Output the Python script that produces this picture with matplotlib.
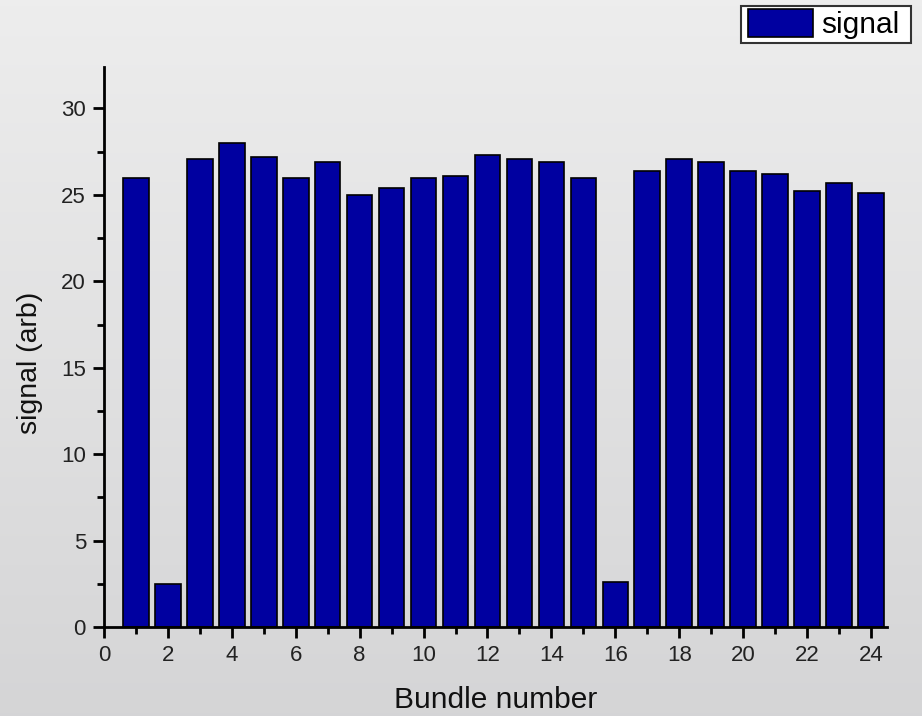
import numpy as np
import matplotlib
matplotlib.use("Agg")
import matplotlib.pyplot as plt
from matplotlib.patches import Rectangle
from matplotlib.ticker import MultipleLocator

plt.rcParams['font.family'] = ['Liberation Sans', 'DejaVu Sans']

bundles = list(range(1, 25))
signal = [26.0, 2.5, 27.1, 28.0, 27.2, 26.0, 26.9, 25.0, 25.4, 26.0, 26.1, 27.3,
          27.1, 26.9, 26.0, 2.6, 26.4, 27.1, 26.9, 26.4, 26.2, 25.2, 25.7, 25.1]

fig = plt.figure(figsize=(9.22, 7.16), dpi=100)

# soft grey vertical gradient behind everything
bg = fig.add_axes([0, 0, 1, 1], zorder=-10)
grad = np.linspace(0, 1, 256).reshape(-1, 1)
top = np.array([0.930, 0.930, 0.930])
bot = np.array([0.835, 0.835, 0.840])
img = top + (bot - top) * grad[..., None]
bg.imshow(img, aspect='auto', extent=[0, 1, 0, 1])
bg.axis('off')

ax = fig.add_axes([0.1128, 0.1243, 0.8492, 0.7821])
ax.patch.set_alpha(0)
ax.bar(bundles, signal, width=0.8, color='#0000a0', edgecolor='black',
       linewidth=1.2, label='signal')

ax.set_xlim(0, 24.5)
ax.set_ylim(0, 32.4)
ax.xaxis.set_major_locator(MultipleLocator(2))
ax.xaxis.set_minor_locator(MultipleLocator(1))
ax.yaxis.set_major_locator(MultipleLocator(5))
ax.yaxis.set_minor_locator(MultipleLocator(2.5))

for s in ('top', 'right'):
    ax.spines[s].set_visible(False)
for s in ('left', 'bottom'):
    ax.spines[s].set_linewidth(2)

ax.tick_params(which='major', direction='out', length=8, width=2,
               labelsize=16, colors='black', labelcolor='#222222', pad=5)
ax.tick_params(which='minor', direction='out', length=5, width=2)

ax.set_xlabel('Bundle number', fontsize=21.5, color='#111111', labelpad=14)
ax.set_ylabel('signal (arb)', fontsize=20.5, color='#111111')
ax.yaxis.set_label_coords(-0.078, 0.471)

# legend box with a white panel, wider padding on the right
fig.patches.append(Rectangle((0.8037, 0.9399), 0.1844, 0.0517,
                             transform=fig.transFigure, facecolor='white',
                             edgecolor='#333333', linewidth=1.5, zorder=5))
leg = fig.legend(loc='upper left', bbox_to_anchor=(0.8113, 0.9874),
                 fontsize=21.5, frameon=False,
                 handlelength=2.17, handleheight=1.07, handletextpad=0.27,
                 borderpad=0, borderaxespad=0)
leg.set_zorder(6)

fig.savefig('out.png', dpi=100)
